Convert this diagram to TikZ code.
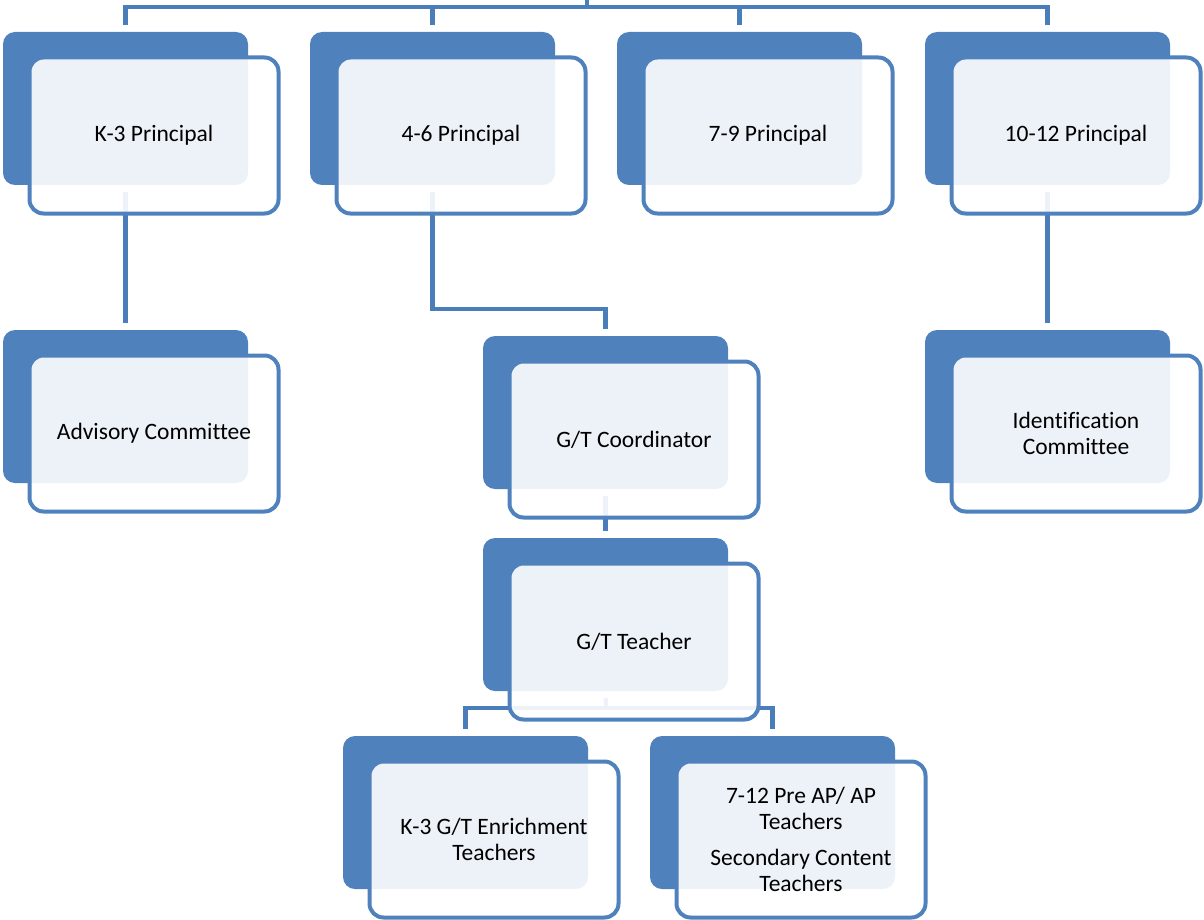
\documentclass[tikz,border=0pt]{standalone}
\usepackage{fontspec}
\setmainfont{Carlito}[Ligatures=NoCommon]
\usetikzlibrary{backgrounds}
\definecolor{boxblue}{HTML}{4F81BD}
\definecolor{linec}{HTML}{4A7EBB}
\tikzset{
  backbox/.style={fill=boxblue, draw=none, rounded corners=12pt,
    minimum width=245pt, minimum height=153pt, inner sep=0pt, outer sep=0pt},
  frontbox/.style={draw=boxblue, line width=4pt, fill=white, fill opacity=0.9,
    text opacity=1, rounded corners=14pt, minimum width=249pt, minimum height=156pt,
    inner sep=0pt, outer sep=0pt, align=center, font=\fontsize{23.5}{26}\selectfont},
  conn/.style={draw=linec, line width=4.2pt}
}
\newcommand{\orgbox}[4]{%
  \node[backbox] (#1b) at (#2+122.5, #3+76.5) {};
  \node[frontbox] (#1) at (#2+151, #3+103.5) {#4};
}
\begin{document}
\begin{tikzpicture}[x=1pt,y=-1pt]
\useasboundingbox (0,0) rectangle (1204,920);
\orgbox{k3}{3}{32}{K-3 Principal}
\orgbox{p46}{310}{32}{4-6 Principal}
\orgbox{p79}{617}{32}{7-9 Principal}
\orgbox{p1012}{925}{32}{10-12 Principal}
\orgbox{adv}{3}{330}{Advisory Committee}
\orgbox{idc}{925}{330}{Identification\\Committee}
\orgbox{gtc}{483}{336}{G/T Coordinator}
\orgbox{gtt}{483}{538}{G/T Teacher}
\orgbox{k3e}{343}{736}{K-3 G/T Enrichment\\Teachers}
\orgbox{ap}{650}{736}{7-12 Pre AP/ AP\\Teachers\\[10pt]Secondary Content\\Teachers}
\coordinate (topend) at (587,0);
\coordinate (hub) at (587,7);
\coordinate (m1) at (520,309);
\coordinate (hub2) at (606,708);
\begin{pgfonlayer}{background}
  \draw[conn] (topend) -- (hub);
  \draw[conn, shorten <=7pt] (k3b.north) |- (hub);
  \draw[conn, shorten <=7pt] (p46b.north) |- (hub);
  \draw[conn, shorten <=7pt] (p79b.north) |- (hub);
  \draw[conn, shorten <=7pt] (p1012b.north) |- (hub);
  \draw[conn, shorten <=7pt, shorten >=7pt] (k3b.south) -- (advb.north);
  \draw[conn, shorten <=7pt, shorten >=7pt] (p1012b.south) -- (idcb.north);
  \draw[conn, shorten <=7pt, shorten >=7pt] (p46b.south) |- (m1) -| (gtcb.north);
  \draw[conn, shorten <=7pt, shorten >=7pt] (gtcb.south) -- (gttb.north);
  \draw[conn, shorten <=7pt] (gttb.south) -- (hub2);
  \draw[conn, shorten >=7pt] (hub2) -| (k3eb.north);
  \draw[conn, shorten >=7pt] (hub2) -| (apb.north);
\end{pgfonlayer}
\end{tikzpicture}
\end{document}
